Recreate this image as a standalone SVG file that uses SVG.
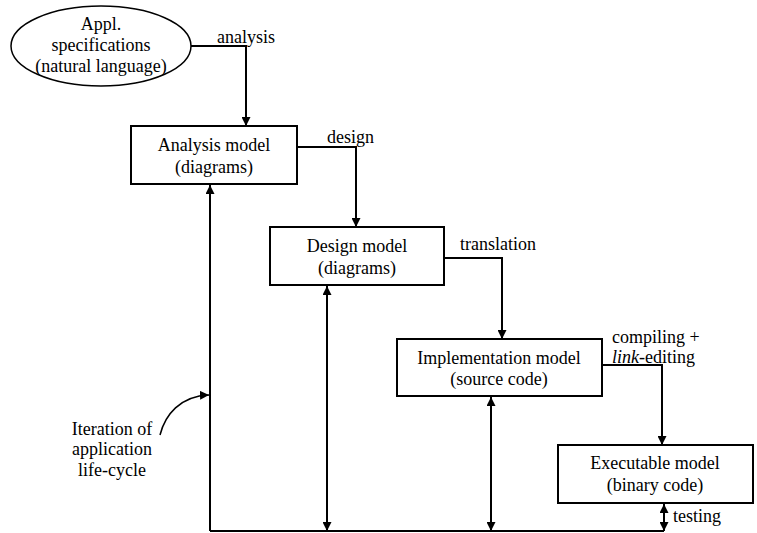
<svg xmlns="http://www.w3.org/2000/svg" width="757" height="533" viewBox="0 0 757 533">
<style>
text{font-family:"Liberation Serif","Times New Roman",serif;font-size:18px;fill:#000}
.c{text-anchor:middle}
.box{fill:#fff;stroke:#000;stroke-width:2}
.ln{fill:none;stroke:#000;stroke-width:2}
</style>
<defs>
<marker id="ah" viewBox="0 0 10 10" refX="10" refY="5" markerUnits="userSpaceOnUse" markerWidth="9" markerHeight="9" orient="auto-start-reverse">
<path d="M0,0 L10,5 L0,10 z" fill="#000"/>
</marker>
</defs>
<rect width="757" height="533" fill="#fff"/>
<g id="connectors">
<path class="ln" d="M191,46 H246 V126" marker-end="url(#ah)"/>
<path class="ln" d="M297,147 H356 V227" marker-end="url(#ah)"/>
<path class="ln" d="M444,258 H502 V339" marker-end="url(#ah)"/>
<path class="ln" d="M602,365 H662 V445" marker-end="url(#ah)"/>
<path class="ln" d="M210,531 H664"/>
<path class="ln" d="M210,531 V185" marker-end="url(#ah)"/>
<path class="ln" d="M327,286 V531" marker-start="url(#ah)" marker-end="url(#ah)"/>
<path class="ln" d="M491,397 V531" marker-start="url(#ah)" marker-end="url(#ah)"/>
<path class="ln" d="M664,504 V531" marker-start="url(#ah)" marker-end="url(#ah)"/>
<path fill="none" stroke="#000" stroke-width="1.5" d="M160,435 C165,415 180,396 209,395" marker-end="url(#ah)"/>
<text x="217" y="43">analysis</text>
<text x="327" y="143">design</text>
<text x="460" y="250">translation</text>
<text x="612" y="343">compiling +</text>
<text x="612" y="363"><tspan font-style="italic">link</tspan>-editing</text>
<text x="673" y="522">testing</text>
</g>
<g id="appl-spec">
<ellipse cx="101" cy="46" rx="90" ry="40" fill="#fff" stroke="#000" stroke-width="1.5"/>
<text class="c" x="101" y="30">Appl.</text>
<text class="c" x="101" y="51">specifications</text>
<text class="c" x="101" y="72">(natural language)</text>
</g>
<g id="analysis-model">
<rect class="box" x="131" y="126" width="166" height="58"/>
<text class="c" x="214" y="151">Analysis model</text>
<text class="c" x="214" y="173">(diagrams)</text>
</g>
<g id="design-model">
<rect class="box" x="270" y="227" width="174" height="58"/>
<text class="c" x="357" y="252">Design model</text>
<text class="c" x="357" y="274">(diagrams)</text>
</g>
<g id="implementation-model">
<rect class="box" x="397" y="339" width="205" height="57"/>
<text class="c" x="499" y="364">Implementation model</text>
<text class="c" x="499" y="385">(source code)</text>
</g>
<g id="executable-model">
<rect class="box" x="558" y="445" width="195" height="58"/>
<text class="c" x="655" y="469">Executable model</text>
<text class="c" x="655" y="491">(binary code)</text>
</g>
<g id="iteration-label">
<text class="c" x="112" y="435">Iteration of</text>
<text class="c" x="112" y="455">application</text>
<text class="c" x="112" y="476">life-cycle</text>
</g>
</svg>
